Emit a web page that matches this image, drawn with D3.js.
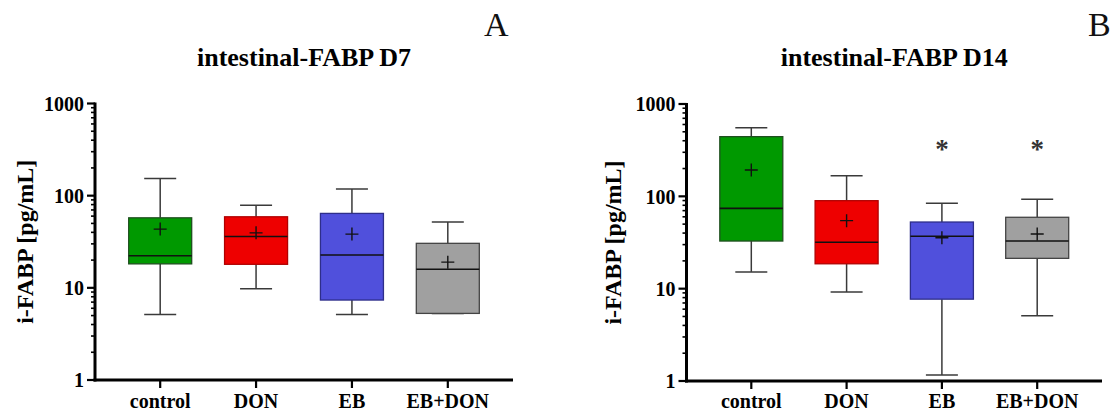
<!DOCTYPE html>
<html>
<head>
<meta charset="utf-8">
<script src="https://cdn.jsdelivr.net/npm/d3@7"></script>
<style>
  html, body { margin: 0; padding: 0; background: #fff; }
  svg { display: block; }
  text { font-family: "Liberation Serif", "Times New Roman", serif; }
</style>
</head>
<body>
<svg id="chart" width="1112" height="413"></svg>
<script>
// ---- data ----
const categories = ["control", "DON", "EB", "EB+DON"];
const colors = ["#009900", "#ee0000", "#5050dc", "#a0a0a0"];
const strokes = ["#1f4f1f", "#b00000", "#2e2e8a", "#444444"];
const yTickValues = [1, 10, 100, 1000];
const yTickLabels = ["1", "10", "100", "1000"];

// Panel A: intestinal-FABP D7
const d7Min    = [5.15, 9.8, 5.15, 5.28];
const d7Q1     = [18.2, 18.0, 7.37, 5.28];
const d7Median = [22.3, 36.1, 22.7, 15.9];
const d7Q3     = [57.5, 59.0, 64.2, 30.4];
const d7Max    = [154, 78.9, 118, 51.7];
const d7Mean   = [43.4, 39.5, 38.3, 19.0];
const d7Stars  = [false, false, false, false];

// Panel B: intestinal-FABP D14
const d14Min    = [15.2, 9.2, 1.16, 5.1];
const d14Q1     = [32.8, 18.6, 7.7, 21.3];
const d14Median = [74, 31.8, 36.9, 32.8];
const d14Q3     = [443, 89.7, 52.7, 59.3];
const d14Max    = [554, 167, 84, 92.9];
const d14Mean   = [193, 54.5, 35.6, 39.1];
const d14Stars  = [false, false, true, true];

const svg = d3.select("#chart");

function panel(cfg) {
  const g = svg.append("g");
  const x = d3.scalePoint().domain(categories).range([cfg.x0, cfg.x1]).padding(0.68);
  const y = d3.scaleLog().domain([1, 1000]).range([cfg.yb, cfg.yt]);
  const boxHalf = 31.5, capHalf = 16, plusHalf = 6.5;

  const rows = categories.map((c, i) => ({
    c, i, min: cfg.min[i], q1: cfg.q1[i], med: cfg.median[i], q3: cfg.q3[i],
    max: cfg.max[i], mean: cfg.mean[i], star: cfg.stars[i]
  }));

  const items = g.selectAll("g.box").data(rows).join("g").attr("class", "box");
  // whiskers
  items.append("line")
    .attr("x1", d => x(d.c)).attr("x2", d => x(d.c))
    .attr("y1", d => y(d.max)).attr("y2", d => y(d.q3))
    .attr("stroke", "#3a3a3a").attr("stroke-width", 1.5);
  items.append("line")
    .attr("x1", d => x(d.c)).attr("x2", d => x(d.c))
    .attr("y1", d => y(d.q1)).attr("y2", d => y(d.min))
    .attr("stroke", "#3a3a3a").attr("stroke-width", 1.5);
  items.append("line")
    .attr("x1", d => x(d.c) - capHalf).attr("x2", d => x(d.c) + capHalf)
    .attr("y1", d => y(d.max)).attr("y2", d => y(d.max))
    .attr("stroke", "#3a3a3a").attr("stroke-width", 1.5);
  items.append("line")
    .attr("x1", d => x(d.c) - capHalf).attr("x2", d => x(d.c) + capHalf)
    .attr("y1", d => y(d.min)).attr("y2", d => y(d.min))
    .attr("stroke", "#3a3a3a").attr("stroke-width", 1.5);
  // box
  items.append("rect")
    .attr("x", d => x(d.c) - boxHalf).attr("width", boxHalf * 2)
    .attr("y", d => y(d.q3)).attr("height", d => y(d.q1) - y(d.q3))
    .attr("fill", d => colors[d.i]).attr("stroke", d => strokes[d.i]).attr("stroke-width", 1.3);
  // median
  items.append("line")
    .attr("x1", d => x(d.c) - boxHalf).attr("x2", d => x(d.c) + boxHalf)
    .attr("y1", d => y(d.med)).attr("y2", d => y(d.med))
    .attr("stroke", "#111").attr("stroke-width", 1.6);
  // mean plus
  items.append("path")
    .attr("d", d => {
      const cx = x(d.c), cy = y(d.mean);
      return `M${cx - plusHalf},${cy}H${cx + plusHalf}M${cx},${cy - plusHalf}V${cy + plusHalf}`;
    })
    .attr("stroke", "#111").attr("stroke-width", 1.4).attr("fill", "none");
  // stars
  items.filter(d => d.star).append("text")
    .attr("x", d => x(d.c)).attr("y", cfg.starY)
    .attr("text-anchor", "middle").attr("font-size", 27).attr("font-weight", "bold").attr("fill", "#333")
    .text("*");

  // y axis (major + minor ticks)
  const minor = [];
  for (let e = 0; e < 3; e++) for (let k = 2; k <= 9; k++) minor.push(k * Math.pow(10, e));
  g.selectAll("line.minor").data(minor).join("line").attr("class", "minor")
    .attr("x1", cfg.x0 - 4).attr("x2", cfg.x0).attr("y1", d => y(d)).attr("y2", d => y(d))
    .attr("stroke", "#000").attr("stroke-width", 1.6);
  g.selectAll("line.major").data(yTickValues).join("line").attr("class", "major")
    .attr("x1", cfg.x0 - 8).attr("x2", cfg.x0).attr("y1", d => y(d)).attr("y2", d => y(d))
    .attr("stroke", "#000").attr("stroke-width", 2.2);
  g.selectAll("text.ytl").data(yTickValues).join("text").attr("class", "ytl")
    .attr("x", cfg.x0 - 11).attr("y", d => y(d)).attr("dy", "0.36em")
    .attr("text-anchor", "end").attr("font-weight", "bold").attr("font-size", 20)
    .text((d, i) => yTickLabels[i]);
  g.append("line").attr("x1", cfg.x0).attr("x2", cfg.x0)
    .attr("y1", cfg.yt - 1).attr("y2", cfg.yb + 1.5)
    .attr("stroke", "#000").attr("stroke-width", 3);

  // x axis
  g.append("line").attr("x1", cfg.x0 - 1.5).attr("x2", cfg.x1)
    .attr("y1", cfg.yb).attr("y2", cfg.yb)
    .attr("stroke", "#000").attr("stroke-width", 3);
  g.selectAll("line.xt").data(categories).join("line").attr("class", "xt")
    .attr("x1", d => x(d)).attr("x2", d => x(d))
    .attr("y1", cfg.yb).attr("y2", cfg.yb + 8)
    .attr("stroke", "#000").attr("stroke-width", 2.2);
  g.selectAll("text.xtl").data(categories).join("text").attr("class", "xtl")
    .attr("x", d => x(d)).attr("y", 408)
    .attr("text-anchor", "middle").attr("font-weight", "bold").attr("font-size", 20)
    .text(d => d);

  // y label
  g.append("text")
    .attr("transform", `translate(${cfg.ylabX},${(cfg.yt + cfg.yb) / 2}) rotate(-90)`)
    .attr("text-anchor", "middle").attr("font-weight", "bold").attr("font-size", 24)
    .text("i-FABP [pg/mL]");

  // title
  g.append("text").attr("x", (cfg.x0 + cfg.x1) / 2).attr("y", 66)
    .attr("text-anchor", "middle").attr("font-weight", "bold").attr("font-size", 26)
    .text(cfg.title);

  // panel letter
  g.append("text").attr("x", cfg.letterX).attr("y", 36)
    .attr("font-size", 34).attr("fill", "#111")
    .text(cfg.letter);
}

panel({
  x0: 95, x1: 513, yt: 103.5, yb: 380,
  min: d7Min, q1: d7Q1, median: d7Median, q3: d7Q3, max: d7Max, mean: d7Mean, stars: d7Stars,
  title: "intestinal-FABP D7", letter: "A", letterX: 484, ylabX: 33, starY: 158
});
panel({
  x0: 686.5, x1: 1102, yt: 104, yb: 381,
  min: d14Min, q1: d14Q1, median: d14Median, q3: d14Q3, max: d14Max, mean: d14Mean, stars: d14Stars,
  title: "intestinal-FABP D14", letter: "B", letterX: 1088, ylabX: 621, starY: 158
});
</script>
</body>
</html>
